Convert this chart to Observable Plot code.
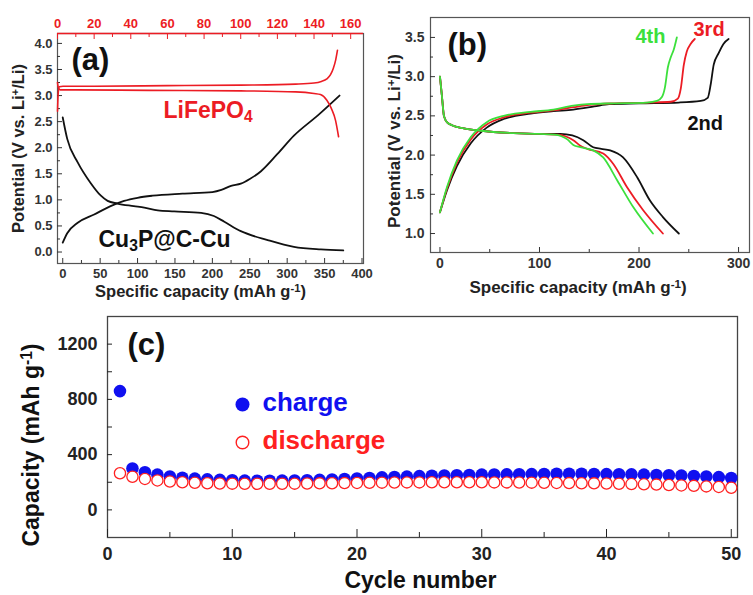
<!DOCTYPE html>
<html><head><meta charset="utf-8">
<script src="https://cdn.jsdelivr.net/npm/d3@7"></script>
<script src="https://cdn.jsdelivr.net/npm/@observablehq/plot@0.6"></script>
<style>
html,body{margin:0;padding:0;background:#fff;}
#chart{position:relative;width:753px;height:595px;background:#fff;overflow:hidden;}
#chart svg{position:absolute;}
</style></head>
<body><div id="chart"></div>
<script>
// ---------- DATA ----------
// Panel (a): Cu3P@C-Cu half-cell (bottom axis, mAh/g) [capacity, potential]
const cuDischarge = [[0,2.58],[6,2.17],[20,1.72],[37,1.33],[51,1.08],[60,0.98],[73,0.93],[95,0.88],[109,0.85],[127,0.80],[149,0.78],[185,0.75],[202,0.69],[216,0.58],[238,0.40],[274,0.23],[309,0.10],[345,0.05],[375,0.03]];
const cuCharge = [[0,0.18],[6,0.36],[20,0.56],[42,0.72],[64,0.88],[82,0.98],[100,1.04],[120,1.08],[160,1.12],[200,1.15],[212,1.19],[225,1.27],[238,1.31],[250,1.40],[265,1.55],[287,1.88],[309,2.23],[341,2.62],[370,3.0]];
// Panel (a): LiFePO4 half-cell (top axis, mAh/g)
const lfpCharge = [[0,2.70],[0.4,3.05],[1,3.17],[3,3.18],[20,3.18],[60,3.19],[100,3.20],[130,3.22],[140,3.24],[144,3.27],[147,3.32],[149,3.40],[150.5,3.52],[151.8,3.68],[152.8,3.87]];
const lfpDischarge = [[0,3.25],[0.5,3.15],[1.5,3.11],[10,3.11],[50,3.10],[100,3.09],[130,3.07],[140,3.04],[143.5,3.02],[147,2.91],[149.5,2.75],[151.7,2.53],[153.4,2.21]];
// Panel (b): full cell, cycles 2-4
const c2Discharge = [[0,3.0],[2,2.75],[4,2.50],[7,2.42],[12,2.38],[24,2.34],[41,2.31],[74,2.28],[100,2.27],[121,2.27],[133,2.25],[144,2.19],[154,2.10],[162,2.08],[171,2.06],[184,1.97],[198,1.72],[211,1.42],[224,1.21],[240,1.0]];
const c3Discharge = [[0,3.0],[2,2.75],[4,2.50],[7,2.42],[12,2.38],[24,2.34],[41,2.31],[74,2.28],[100,2.27],[118,2.26],[126,2.24],[134,2.19],[141,2.12],[148,2.08],[164,2.02],[174,1.89],[188,1.59],[204,1.30],[224,1.0]];
const c4Discharge = [[0,3.0],[2,2.75],[4,2.50],[7,2.42],[12,2.38],[24,2.34],[41,2.31],[74,2.28],[100,2.27],[115,2.26],[122,2.24],[128,2.20],[134,2.13],[141,2.10],[154,2.06],[164,1.97],[178,1.68],[194,1.34],[214,1.0]];
const c2Charge = [[0,1.27],[7,1.55],[17,1.86],[31,2.15],[47,2.35],[64,2.46],[91,2.53],[114,2.56],[134,2.58],[155,2.62],[170,2.65],[200,2.66],[240,2.67],[262,2.69],[269,2.73],[272,2.9],[275,3.15],[280,3.3],[285,3.42],[290,3.48]];
const c3Charge = [[0,1.27],[7,1.57],[17,1.90],[31,2.20],[47,2.39],[64,2.48],[91,2.54],[114,2.57],[134,2.61],[150,2.64],[175,2.66],[210,2.67],[232,2.68],[239,2.72],[242,2.85],[245,3.15],[248,3.32],[252,3.42],[256,3.48]];
const c4Charge = [[0,1.27],[7,1.59],[17,1.93],[31,2.23],[47,2.42],[64,2.50],[91,2.55],[114,2.58],[134,2.63],[148,2.65],[175,2.66],[208,2.67],[218,2.69],[223,2.74],[226,2.86],[229,3.12],[232,3.25],[235,3.35],[238,3.5]];
// Panel (c): cycling
const cycles = [1,2,3,4,5,6,7,8,9,10,11,12,13,14,15,16,17,18,19,20,21,22,23,24,25,26,27,28,29,30,31,32,33,34,35,36,37,38,39,40,41,42,43,44,45,46,47,48,49,50];
const chargeCap = [860,300,272,255,242,233,226,221,217,214,212,211,211,212,213,215,217,220,223,227,231,235,238,241,244,247,249,251,253,255,256,257,258,259,260,261,261,261,260,259,258,257,255,253,251,248,245,242,237,231];
const dischargeCap = [265,240,224,213,205,200,196,193,191,190,189,189,189,189,190,191,192,193,194,195,196,197,198,199,199,200,200,200,200,200,199,199,198,197,196,195,194,193,192,191,189,187,185,183,180,177,174,170,166,160];
// Ticks
const aBottomTicks = [0,50,100,150,200,250,300,350,400];
const aTopTicks = [0,20,40,60,80,100,120,140,160];
const aYTicks = [0,0.5,1,1.5,2,2.5,3,3.5,4];
const bXTicks = [0,100,200,300];
const bYTicks = [1,1.5,2,2.5,3,3.5];
const cXTicks = [0,10,20,30,40,50];
const cYTicks = [0,400,800,1200];

const RED = "#ec1c24", BLUE = "#1010f0", GREEN = "#3ce03c", BLACK = "#111";
const FONT = "'Liberation Sans', Arial, Helvetica, sans-serif";
const chart = document.getElementById("chart");

function place(svg, left, top) {
  svg.style.left = left + "px"; svg.style.top = top + "px";
  rich(svg); chart.appendChild(svg);
}
function rich(svg) {
  const ns = "http://www.w3.org/2000/svg";
  svg.querySelectorAll("text").forEach(t => {
    const s = t.textContent;
    if (!/[\^_]\{/.test(s) || t.querySelector("tspan")) return;
    const parts = s.split(/([\^_]\{[^}]*\})/);
    while (t.firstChild) t.removeChild(t.firstChild);
    parts.forEach(p => {
      if (!p) return;
      const ts = document.createElementNS(ns, "tspan");
      const m = p.match(/^([\^_])\{([^}]*)\}$/);
      if (m) {
        ts.textContent = m[2];
        ts.setAttribute("font-size", "68%");
        ts.setAttribute("baseline-shift", m[1] === "^" ? "45%" : "-22%");
      } else ts.textContent = p;
      t.appendChild(ts);
    });
  });
}
const halves = (arr) => { const r = []; for (let i = 0; i < arr.length - 1; i++) r.push((arr[i] + arr[i+1]) / 2); return r; };
const txt = (s, o) => Plot.text([s], {text: d => d, lineAnchor: "middle", textAnchor: "middle", ...o});
const minorX = (ticks, anchor, size) => Plot.axisX({ticks, anchor, tickSize: size, tickFormat: () => "", label: null});
const minorY = (ticks, size) => Plot.axisY({ticks, anchor: "left", tickSize: size, tickFormat: () => "", label: null});

// ---------- PANEL (a) black, bottom axis ----------
const aW = 380, aH = 300, aM = {marginLeft: 57, marginRight: 17, marginTop: 33, marginBottom: 37};
const aY = [-0.22, 4.19];
const pa = Plot.plot({
  width: aW, height: aH, ...aM,
  style: {fontFamily: FONT, fontWeight: "bold", fontSize: "13px", color: "#333", background: "transparent", overflow: "visible"},
  x: {domain: [-7, 402]}, y: {domain: aY},
  marks: [
    Plot.frame({stroke: "#555", strokeWidth: 1.2}),
    Plot.axisX({ticks: aBottomTicks, anchor: "bottom", tickSize: -5, tickPadding: 10, label: null}),
    minorX(halves(aBottomTicks), "bottom", -3),
    Plot.axisY({ticks: aYTicks, anchor: "left", tickSize: -5, tickPadding: 10, tickFormat: d3.format(".1f"), label: null}),
    minorY(halves(aYTicks), -3),
    Plot.line(cuDischarge, {x: "0", y: "1", stroke: BLACK, strokeWidth: 1.8, curve: "monotone-x"}),
    Plot.line(cuCharge, {x: "0", y: "1", stroke: BLACK, strokeWidth: 1.8, curve: "monotone-x"}),
    txt("Specific capacity (mAh g^{-1})", {frameAnchor: "bottom", dx: -10, dy: 28, fontSize: 16.5, fill: "#222"}),
    txt("Potential (V vs. Li^{+}/Li)", {frameAnchor: "left", dx: -39, rotate: -90, fontSize: 16.5, fill: "#222"}),
    txt("(a)", {frameAnchor: "top-left", dx: 14, dy: 27, fontSize: 31, textAnchor: "start", fill: "#111"}),
    txt("Cu_{3}P@C-Cu", {frameAnchor: "bottom-left", dx: 41, dy: -24, fontSize: 23, textAnchor: "start", fill: "#111"})
  ]
});
place(pa, 0, 0);

// ---------- PANEL (a) red overlay, top axis ----------
const pa2 = Plot.plot({
  width: aW, height: aH, ...aM,
  style: {fontFamily: FONT, fontWeight: "bold", fontSize: "13px", color: RED, background: "transparent", overflow: "visible"},
  x: {domain: [0, 167]}, y: {domain: aY, axis: null},
  marks: [
    Plot.ruleY([aY[1]], {stroke: RED, strokeWidth: 1.3}),
    Plot.axisX({ticks: aTopTicks, anchor: "top", tickSize: -5, tickPadding: 11, label: null}),
    minorX(halves(aTopTicks), "top", -3),
    Plot.line(lfpCharge, {x: "0", y: "1", stroke: RED, strokeWidth: 1.6, curve: "monotone-x"}),
    Plot.line(lfpDischarge, {x: "0", y: "1", stroke: RED, strokeWidth: 1.6, curve: "monotone-x"}),
    txt("LiFePO_{4}", {frameAnchor: "top-left", dx: 106, dy: 77, fontSize: 23, textAnchor: "start", fill: RED})
  ]
});
place(pa2, 0, 0);

// ---------- PANEL (b) ----------
const pb = Plot.plot({
  width: 373, height: 300, marginLeft: 50, marginRight: 4, marginTop: 17, marginBottom: 48,
  style: {fontFamily: FONT, fontWeight: "bold", fontSize: "14px", color: "#333", background: "transparent", overflow: "visible"},
  x: {domain: [-9.5, 311]}, y: {domain: [0.758, 3.754]},
  marks: [
    Plot.frame({stroke: "#555", strokeWidth: 1.2}),
    Plot.axisX({ticks: bXTicks, anchor: "bottom", tickSize: -5, tickPadding: 11, label: null}),
    minorX(halves(bXTicks), "bottom", -3),
    Plot.axisY({ticks: bYTicks, anchor: "left", tickSize: -5, tickPadding: 11, tickFormat: d3.format(".1f"), label: null}),
    minorY(halves(bYTicks), -3),
    Plot.line(c2Discharge, {x: "0", y: "1", stroke: BLACK, strokeWidth: 1.8, curve: "monotone-x"}),
    Plot.line(c2Charge, {x: "0", y: "1", stroke: BLACK, strokeWidth: 1.8, curve: "monotone-x"}),
    Plot.line(c3Discharge, {x: "0", y: "1", stroke: RED, strokeWidth: 1.8, curve: "monotone-x"}),
    Plot.line(c3Charge, {x: "0", y: "1", stroke: RED, strokeWidth: 1.8, curve: "monotone-x"}),
    Plot.line(c4Discharge, {x: "0", y: "1", stroke: GREEN, strokeWidth: 1.8, curve: "monotone-x"}),
    Plot.line(c4Charge, {x: "0", y: "1", stroke: GREEN, strokeWidth: 1.8, curve: "monotone-x"}),
    txt("Specific capacity (mAh g^{-1})", {frameAnchor: "bottom", dx: -12, dy: 35, fontSize: 17, fill: "#222"}),
    txt("Potential (V vs. Li^{+}/Li)", {frameAnchor: "left", dx: -36, dy: 6, rotate: -90, fontSize: 17, fill: "#222"}),
    txt("(b)", {frameAnchor: "top-left", dx: 17, dy: 28, fontSize: 31, textAnchor: "start", fill: "#111"}),
    txt("4th", {frameAnchor: "top-left", dx: 205, dy: 19, fontSize: 20, textAnchor: "start", fill: GREEN}),
    txt("3rd", {frameAnchor: "top-left", dx: 263, dy: 12, fontSize: 20, textAnchor: "start", fill: RED}),
    txt("2nd", {frameAnchor: "top-left", dx: 257, dy: 106, fontSize: 20, textAnchor: "start", fill: "#111"})
  ]
});
place(pb, 380, 0);

// ---------- PANEL (c) ----------
const cData = cycles.map((c, i) => ({cycle: c, charge: chargeCap[i], discharge: dischargeCap[i]}));
const pc = Plot.plot({
  width: 753, height: 300, marginLeft: 107, marginRight: 16, marginTop: 21, marginBottom: 58,
  style: {fontFamily: FONT, fontWeight: "bold", fontSize: "18px", color: "#222", background: "transparent", overflow: "visible"},
  x: {domain: [0, 50.5]}, y: {domain: [-200, 1400]},
  marks: [
    Plot.frame({stroke: "#444", strokeWidth: 1.3}),
    Plot.axisX({ticks: cXTicks, anchor: "bottom", tickSize: -8, tickPadding: 18, label: null}),
    minorX(halves(cXTicks), "bottom", -5),
    Plot.axisY({ticks: cYTicks, anchor: "left", tickSize: -5, tickPadding: 15, tickFormat: d3.format("d"), label: null}),
    minorY(halves(cYTicks), -5),
    Plot.dot(cData, {x: "cycle", y: "charge", r: 6.3, fill: BLUE, stroke: "none"}),
    Plot.dot(cData, {x: "cycle", y: "discharge", r: 5.6, fill: "white", stroke: "#ff2020", strokeWidth: 1.3}),
    txt("Cycle number", {frameAnchor: "bottom", dx: -2, dy: 43, fontSize: 23, fill: "#111"}),
    txt("Capacity (mAh g^{-1})", {frameAnchor: "left", dx: -76, dy: 18, rotate: -90, fontSize: 23, fill: "#111"}),
    txt("(c)", {frameAnchor: "top-left", dx: 20, dy: 29, fontSize: 31, textAnchor: "start", fill: "#111"}),
    Plot.dot([0], {frameAnchor: "top-left", dx: 135, dy: 88, r: 7, fill: BLUE}),
    Plot.dot([0], {frameAnchor: "top-left", dx: 135, dy: 126, r: 6.3, fill: "white", stroke: "#ff2020", strokeWidth: 1.4}),
    txt("charge", {frameAnchor: "top-left", dx: 155, dy: 86, fontSize: 26, textAnchor: "start", fill: BLUE}),
    txt("discharge", {frameAnchor: "top-left", dx: 155, dy: 124, fontSize: 26, textAnchor: "start", fill: "#ff2020"})
  ]
});
place(pc, 0, 295);
</script>
</body></html>
